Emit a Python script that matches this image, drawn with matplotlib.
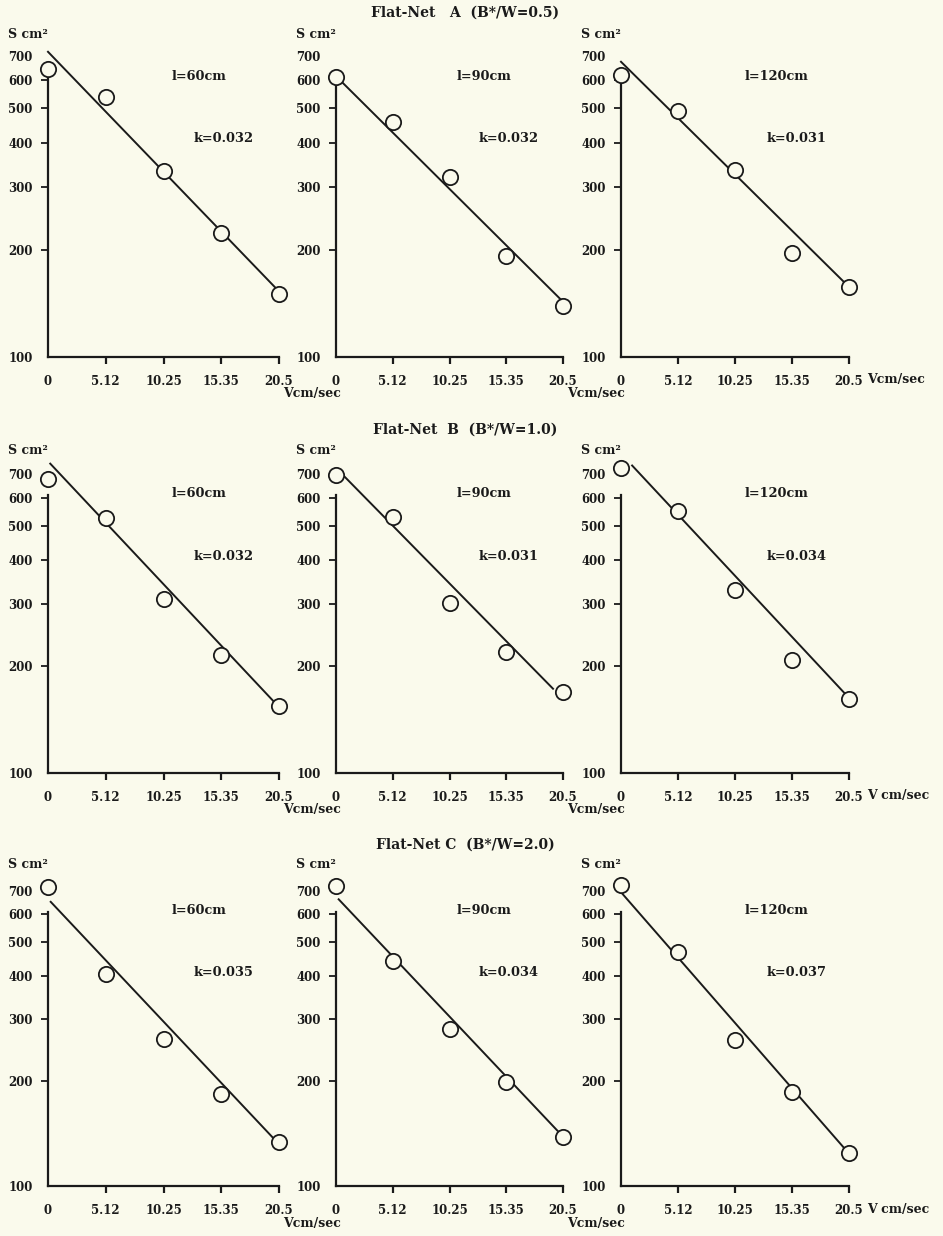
import matplotlib
matplotlib.use("Agg")
import matplotlib.pyplot as plt
import numpy as np
from matplotlib.ticker import NullLocator

plt.rcParams['font.family'] = ['DejaVu Serif']
plt.rcParams['font.weight'] = 'bold'
plt.rcParams['font.size'] = 8.5

BG = '#fafaec'
INK = '#1a1a1a'

# velocity (cm/sec) and tick labels
v = [0, 5.12, 10.25, 15.35, 20.5]
v_labels = ['0', '5.12', '10.25', '15.35', '20.5']
s_ticks = [100, 200, 300, 400, 500, 600, 700]

S_A60 = [644, 536, 332, 223, 150]
S_A90 = [613, 458, 321, 192, 139]
S_A120 = [620, 492, 335, 196, 157]
S_B60 = [678, 526, 311, 215, 155]
S_B90 = [693, 528, 303, 220, 169]
S_B120 = [728, 549, 328, 208, 162]
S_C60 = [721, 406, 263, 183, 134]
S_C90 = [724, 441, 282, 198, 138]
S_C120 = [728, 467, 262, 186, 124]

# fitted line ends: (v start, S start, v end, S end)
fit_A60 = [0, 720, 20.4, 154]
fit_A90 = [0, 615, 20.5, 143]
fit_A120 = [0, 675, 20.35, 159]
fit_B60 = [0.2, 748, 20.05, 159]
fit_B90 = [0.66, 693, 19.6, 173]
fit_B120 = [1.0, 739, 20.26, 166]
fit_C60 = [0.24, 652, 20.1, 136]
fit_C90 = [0.24, 663, 20.0, 144]
fit_C120 = [0.1, 689, 20.2, 127]

lengths = ['l=60cm', 'l=90cm', 'l=120cm']
k_A = ['k=0.032', 'k=0.032', 'k=0.031']
k_B = ['k=0.032', 'k=0.031', 'k=0.034']
k_C = ['k=0.035', 'k=0.034', 'k=0.037']
titles = ['Flat-Net   A  (B*/W=0.5)', 'Flat-Net  B  (B*/W=1.0)', 'Flat-Net C  (B*/W=2.0)']

rows = [
    ([S_A60, S_A90, S_A120], [fit_A60, fit_A90, fit_A120], k_A),
    ([S_B60, S_B90, S_B120], [fit_B60, fit_B90, fit_B120], k_B),
    ([S_C60, S_C90, S_C120], [fit_C60, fit_C90, fit_C120], k_C),
]

W, H = 943, 1236
col_left = [48, 336, 621]
col_right = [279, 563, 849]
row_bottom = [357, 773, 1186]
row_decade = [356, 354, 349]
title_y = [13, 430, 845]
vlabel_c2 = ['Vcm/sec', 'V cm/sec', 'V cm/sec']
YMAX = 800.0

fig = plt.figure(figsize=(W / 100, H / 100), dpi=100)
fig.patch.set_facecolor(BG)

for r, (series, fits, ks) in enumerate(rows):
    hpx = np.log10(YMAX / 100) * row_decade[r]
    for c in range(3):
        L, R, B = col_left[c], col_right[c], row_bottom[r]
        ax = fig.add_axes([L / W, 1 - B / H, (R - L) / W, hpx / H])
        ax.set_facecolor('none')
        ax.set_yscale('log')
        ax.set_ylim(100, YMAX)
        ax.set_xlim(0, 20.5)
        for s in ['top', 'right']:
            ax.spines[s].set_visible(False)
        ax.spines['left'].set_bounds(100, 610)
        ax.spines['left'].set_linewidth(1.6)
        ax.spines['bottom'].set_linewidth(1.6)
        ax.spines['left'].set_color(INK)
        ax.spines['bottom'].set_color(INK)

        ax.set_xticks(v)
        ax.set_xticklabels(v_labels)
        ax.set_yticks(s_ticks)
        ax.set_yticklabels([str(t) for t in s_ticks])
        ax.yaxis.set_minor_locator(NullLocator())
        ax.tick_params(axis='x', length=5, width=1.6, pad=8, color=INK, labelcolor=INK)
        ax.tick_params(axis='y', length=5, width=1.3, pad=6, color=INK, labelcolor=INK)
        ax.xaxis.get_major_ticks()[0].tick1line.set_visible(False)
        ax.yaxis.get_major_ticks()[0].tick1line.set_visible(False)
        ax.yaxis.get_major_ticks()[-1].tick1line.set_visible(False)

        f = fits[c]
        ax.plot([f[0], f[2]], [f[1], f[3]], color=INK, lw=1.4, zorder=2,
                clip_on=False)
        ax.plot(v, series[c], 'o', ms=11, mfc=BG, mec=INK, mew=1.3,
                zorder=3, clip_on=False)

        ax.text(13.4 if c < 2 else 14.0, 615, lengths[c], ha='center', va='center',
                color=INK, fontsize=9.3)
        ax.text(15.6 if c < 2 else 15.8, 410, ks[c], ha='center', va='center',
                color=INK, fontsize=9.3)

        ax.annotate('S cm²', xy=(0, 100), xycoords='data', xytext=(-40, 322),
                    textcoords='offset pixels', ha='left', va='center', color=INK,
                    fontsize=9)
        if c < 2:
            ax.annotate('Vcm/sec', xy=(20.5, 100), xycoords='data', xytext=(4, -37),
                        textcoords='offset pixels', ha='left', va='center', color=INK,
                        fontsize=9)
        else:
            ax.annotate(vlabel_c2[r], xy=(20.5, 100), xycoords='data', xytext=(18, -23),
                        textcoords='offset pixels', ha='left', va='center', color=INK,
                        fontsize=9)

    fig.text(465 / W, 1 - title_y[r] / H, titles[r], ha='center', va='center',
             color=INK, fontsize=10)

fig.savefig('out.png', dpi=100, facecolor=BG)
